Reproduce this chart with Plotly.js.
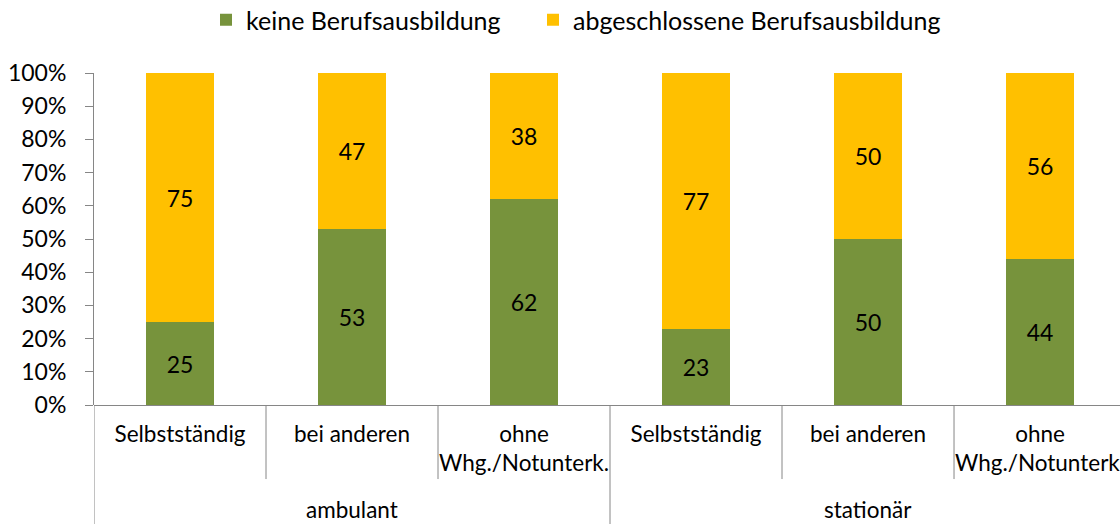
<!DOCTYPE html>
<html>
<head>
<meta charset="utf-8">
<script src="https://cdn.plot.ly/plotly-3.0.1.min.js"></script>
<style>
html, body { margin: 0; padding: 0; overflow: hidden; background: #fff; }
#chart { width: 1120px; height: 524px; }
</style>
</head>
<body>
<div id="chart"></div>
<script>
// Data
const subCategories = ["Selbstständig", "bei anderen", "ohne<br>Whg./Notunterk.", "Selbstständig", "bei anderen", "ohne<br>Whg./Notunterk."];
const groups = ["ambulant", "stationär"];
const groupSizes = [3, 3];
const keineBerufsausbildung = [25, 53, 62, 23, 50, 44];
const abgeschlosseneBerufsausbildung = [75, 47, 38, 77, 50, 56];
const seriesNames = ["keine Berufsausbildung", "abgeschlossene Berufsausbildung"];
const yTicks = [0, 10, 20, 30, 40, 50, 60, 70, 80, 90, 100];

const FONT = "Lato, 'Open Sans', sans-serif";
const AXIS_GRAY = "#868686";

const xPos = subCategories.map((_, i) => i);

const traces = [
  {
    type: "bar",
    name: seriesNames[0],
    legend: "legend",
    x: xPos,
    y: keineBerufsausbildung,
    marker: { color: "#77933C" },
    text: keineBerufsausbildung.map(String),
    textposition: "inside",
    insidetextanchor: "middle",
    textfont: { family: FONT, size: 23, color: "#000" },
    hoverinfo: "skip"
  },
  {
    type: "bar",
    name: seriesNames[1],
    legend: "legend2",
    x: xPos,
    y: abgeschlosseneBerufsausbildung,
    marker: { color: "#FFC000" },
    text: abgeschlosseneBerufsausbildung.map(String),
    textposition: "inside",
    insidetextanchor: "middle",
    textfont: { family: FONT, size: 23, color: "#000" },
    hoverinfo: "skip"
  }
];

// divider shapes below the axis
const shapes = [];
const annotations = [];
let start = 0;
groupSizes.forEach((n, g) => {
  shapes.push({ type: "line", xref: "x", yref: "paper", x0: start - 0.5, x1: start - 0.5, y0: 0, y1: -0.36, line: { color: AXIS_GRAY, width: 1 } });
  for (let k = 1; k < n; k++) {
    shapes.push({ type: "line", xref: "x", yref: "paper", x0: start + k - 0.5, x1: start + k - 0.5, y0: 0, y1: -0.223, line: { color: AXIS_GRAY, width: 1 } });
  }
  annotations.push({ xref: "x", yref: "paper", x: start + (n - 1) / 2, y: -0.316, text: groups[g], showarrow: false, yanchor: "middle", font: { family: FONT, size: 22.5, color: "#000" } });
  start += n;
});

const legendBase = {
  orientation: "h",
  xref: "container",
  yref: "container",
  xanchor: "left",
  y: 1 - 20 / 524,
  yanchor: "middle",
  font: { family: FONT, size: 25, color: "#000" },
  itemwidth: 30,
  bgcolor: "rgba(0,0,0,0)"
};

const layout = {
  width: 1120,
  height: 524,
  margin: { l: 94, r: 0, t: 73, b: 119, pad: 0 },
  paper_bgcolor: "#fff",
  plot_bgcolor: "#fff",
  barmode: "stack",
  bargap: 0.6,
  showlegend: true,
  legend: Object.assign({}, legendBase, { x: 206 / 1120 }),
  legend2: Object.assign({}, legendBase, { x: 533 / 1120 }),
  xaxis: {
    range: [-0.5, 5.465],
    tickmode: "array",
    tickvals: xPos,
    ticktext: subCategories,
    ticks: "",
    showline: false,
    showgrid: false,
    zeroline: false,
    fixedrange: true,
    ticklabeloverflow: "allow",
    ticklabelstandoff: 13,
    tickfont: { family: FONT, size: 22.5, color: "#000" }
  },
  yaxis: {
    range: [0, 100],
    tickmode: "array",
    tickvals: yTicks,
    ticktext: yTicks.map(v => v + "%"),
    ticks: "outside",
    ticklen: 8,
    tickcolor: AXIS_GRAY,
    showline: true,
    linecolor: AXIS_GRAY,
    linewidth: 1,
    showgrid: false,
    zeroline: true,
    zerolinecolor: AXIS_GRAY,
    zerolinewidth: 1,
    fixedrange: true,
    ticklabelstandoff: 14,
    tickfont: { family: FONT, size: 23, color: "#000" }
  },
  shapes: shapes,
  annotations: annotations,
  font: { family: FONT, color: "#000" }
};

Plotly.newPlot("chart", traces, layout, { displayModeBar: false, staticPlot: true });
</script>
</body>
</html>
